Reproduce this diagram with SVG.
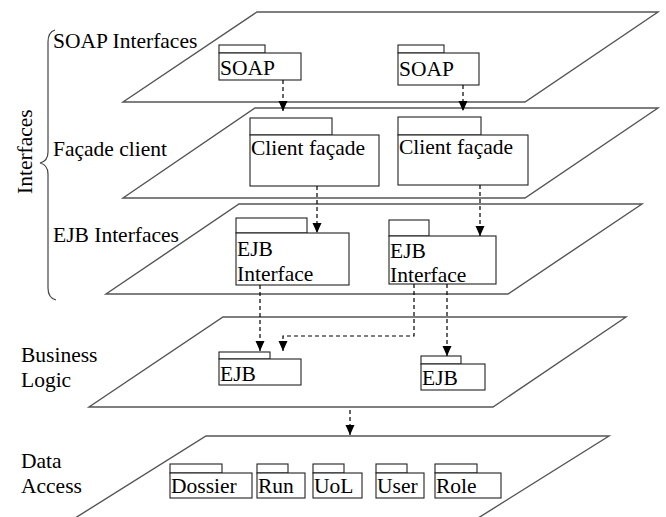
<svg xmlns="http://www.w3.org/2000/svg" width="666" height="517" viewBox="0 0 666 517">
  <defs>
    <marker id="arrow" markerUnits="userSpaceOnUse" markerWidth="10" markerHeight="10" refX="10" refY="4.5" orient="auto">
      <path d="M0,0 L10,4.5 L0,9 z" fill="#000"/>
    </marker>
    <style>
      .plane { fill: #fff; stroke: #555; stroke-width: 1.4; }
      .pkg { fill: #fff; stroke: #222; stroke-width: 1.1; }
      .lbl { font-family: "Liberation Serif", "DejaVu Serif", serif; font-size: 21.5px; fill: #000; }
      .dep { fill: none; stroke: #000; stroke-width: 1.2; stroke-dasharray: 4 3; marker-end: url(#arrow); }
      .brace { fill: none; stroke: #444; stroke-width: 1.2; }
    </style>
  </defs>
  <rect width="666" height="517" fill="#fff"/>

  <!-- layer planes -->
  <g id="planes">
    <polygon id="plane-soap" class="plane" points="257,12 658,12 525,102 123,102"/>
    <polygon id="plane-facade" class="plane" points="255,108 658,108 525,198 123,198"/>
    <polygon id="plane-ejbif" class="plane" points="239,204 642,204 508,294 106,294"/>
    <polygon id="plane-logic" class="plane" points="223,317 626,317 493,407 89,407"/>
    <polygon id="plane-data" class="plane" points="206,436 609,436 459,530 56,530"/>
  </g>

  <!-- layer captions -->
  <g id="captions">
    <path class="brace" d="M55,30 Q48,32 48,42 L48,152 Q48,161 40,163 Q48,165 48,174 L48,288 Q48,298 56,300"/>
    <text class="lbl" transform="translate(32,194) rotate(-90)">Interfaces</text>
    <text class="lbl" x="53" y="48">SOAP Interfaces</text>
    <text class="lbl" x="53" y="156">Façade client</text>
    <text class="lbl" x="53" y="242">EJB Interfaces</text>
    <text class="lbl" x="21" y="362">Business</text>
    <text class="lbl" x="21" y="387">Logic</text>
    <text class="lbl" x="21" y="468">Data</text>
    <text class="lbl" x="21" y="493">Access</text>
  </g>

  <!-- SOAP layer -->
  <g id="soap1">
    <rect class="pkg" x="219" y="45" width="46" height="8"/>
    <rect class="pkg" x="219" y="53" width="82" height="27"/>
    <text class="lbl" x="220" y="75">SOAP</text>
  </g>
  <g id="soap2">
    <rect class="pkg" x="398" y="45" width="46" height="8"/>
    <rect class="pkg" x="398" y="53" width="81" height="32"/>
    <text class="lbl" x="399" y="76">SOAP</text>
  </g>

  <!-- Facade layer -->
  <g id="facade1">
    <rect class="pkg" x="250" y="118" width="82" height="17"/>
    <rect class="pkg" x="250" y="135" width="129" height="51"/>
    <text class="lbl" x="251" y="155">Client façade</text>
  </g>
  <g id="facade2">
    <rect class="pkg" x="398" y="117" width="83" height="18"/>
    <rect class="pkg" x="398" y="135" width="130" height="50"/>
    <text class="lbl" x="399" y="154">Client façade</text>
  </g>

  <!-- EJB interface layer -->
  <g id="ejbif1">
    <rect class="pkg" x="236" y="218" width="71" height="15"/>
    <rect class="pkg" x="236" y="233" width="113" height="52"/>
    <text class="lbl" x="237" y="256">EJB</text>
    <text class="lbl" x="237" y="281">Interface</text>
  </g>
  <g id="ejbif2">
    <rect class="pkg" x="389" y="220" width="40" height="16"/>
    <rect class="pkg" x="389" y="236" width="107" height="48"/>
    <text class="lbl" x="390" y="258">EJB</text>
    <text class="lbl" x="390" y="282">Interface</text>
  </g>

  <!-- Business logic layer -->
  <g id="ejb1">
    <rect class="pkg" x="219" y="352" width="51" height="7"/>
    <rect class="pkg" x="219" y="359" width="82" height="26"/>
    <text class="lbl" x="220" y="381">EJB</text>
  </g>
  <g id="ejb2">
    <rect class="pkg" x="421" y="356" width="40" height="8"/>
    <rect class="pkg" x="421" y="364" width="64" height="26"/>
    <text class="lbl" x="422" y="385">EJB</text>
  </g>

  <!-- Data access layer -->
  <g id="dossier">
    <rect class="pkg" x="170" y="464" width="52" height="9"/>
    <rect class="pkg" x="170" y="473" width="82" height="25"/>
    <text class="lbl" x="171" y="493">Dossier</text>
  </g>
  <g id="run">
    <rect class="pkg" x="257" y="464" width="31" height="9"/>
    <rect class="pkg" x="257" y="473" width="48" height="25"/>
    <text class="lbl" x="258" y="493">Run</text>
  </g>
  <g id="uol">
    <rect class="pkg" x="313" y="464" width="31" height="9"/>
    <rect class="pkg" x="313" y="473" width="49" height="25"/>
    <text class="lbl" x="314" y="493">UoL</text>
  </g>
  <g id="user">
    <rect class="pkg" x="376" y="464" width="31" height="9"/>
    <rect class="pkg" x="376" y="473" width="48" height="25"/>
    <text class="lbl" x="377" y="493">User</text>
  </g>
  <g id="role">
    <rect class="pkg" x="435" y="464" width="42" height="9"/>
    <rect class="pkg" x="435" y="473" width="66" height="25"/>
    <text class="lbl" x="436" y="493">Role</text>
  </g>

  <!-- dependencies -->
  <g id="connectors">
    <path class="dep" d="M283,80 L283,111"/>
    <path class="dep" d="M463,85 L463,111"/>
    <path class="dep" d="M317,186 L317,233"/>
    <path class="dep" d="M480,185 L480,236"/>
    <path class="dep" d="M260,285 L260,351"/>
    <path class="dep" d="M414,284 L414,336 L283,336 L283,351"/>
    <path class="dep" d="M447,284 L447,356"/>
    <path class="dep" d="M350,410 L350,435"/>
  </g>
</svg>
